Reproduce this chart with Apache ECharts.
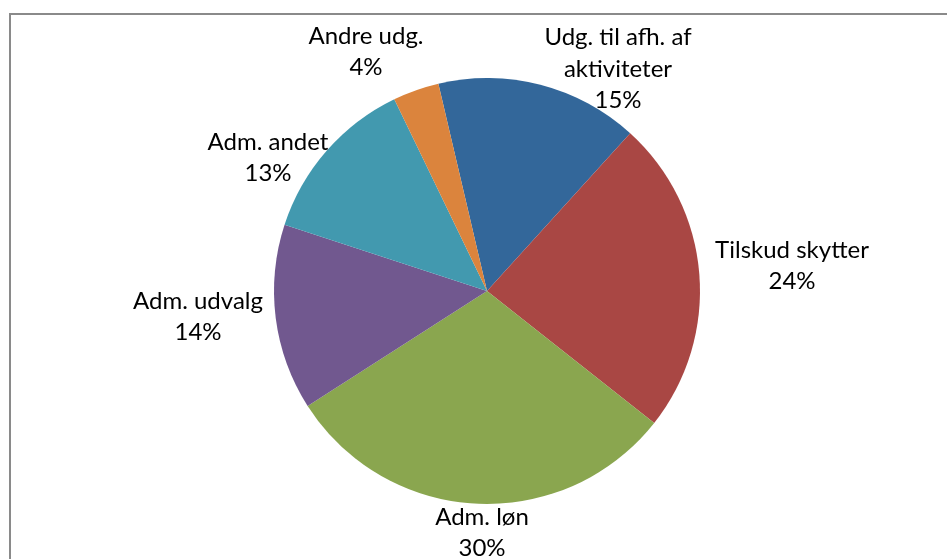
<!DOCTYPE html>
<html>
<head>
<meta charset="utf-8">
<script src="https://cdn.jsdelivr.net/npm/echarts@6/dist/echarts.min.js"></script>
<style>
  html, body { margin: 0; padding: 0; background: #fff; }
  #chart { width: 947px; height: 559px; }
</style>
</head>
<body>
<div id="chart"></div>
<script>
const names = ['Udg. til afh. af\naktiviteter', 'Tilskud skytter', 'Adm. løn', 'Adm. udvalg', 'Adm. andet', 'Andre udg.'];
const values = [15.4, 23.9, 30.3, 14.1, 12.8, 3.5];
const pctLabels = ['15%', '24%', '30%', '14%', '13%', '4%'];
const colors = ['#33679A', '#A94744', '#8AA64F', '#71588F', '#4299AF', '#DB843D'];

// where Excel put each label (centre of the text block)
const labelPos = [[618, 69], [792, 266], [482, 533], [198, 317], [268, 158], [366, 52]];

const chart = echarts.init(document.getElementById('chart'));

chart.setOption({
    animation: false,
    backgroundColor: '#fff',
    graphic: [{
        type: 'rect',
        shape: { x: 10, y: 14, width: 960, height: 600 },
        style: { fill: 'none', stroke: '#8a8a8a', lineWidth: 2 },
        silent: true
    }],
    series: [{
        type: 'pie',
        center: [487, 291],
        radius: 213,
        startAngle: 103.2,
        clockwise: true,
        avoidLabelOverlap: false,
        itemStyle: { borderWidth: 0 },
        label: {
            show: true,
            position: 'outside',
            color: '#000',
            fontFamily: 'Lato',
            fontSize: 24,
            lineHeight: 31.5,
            align: 'center',
            formatter: p => p.name + '\n' + pctLabels[p.dataIndex]
        },
        labelLine: { show: false },
        labelLayout: function (params) {
            const pos = labelPos[params.dataIndex];
            return { x: pos[0], y: pos[1], align: 'center', verticalAlign: 'middle' };
        },
        data: names.map((n, i) => ({
            name: n,
            value: values[i],
            itemStyle: { color: colors[i] }
        }))
    }]
});
</script>
</body>
</html>
